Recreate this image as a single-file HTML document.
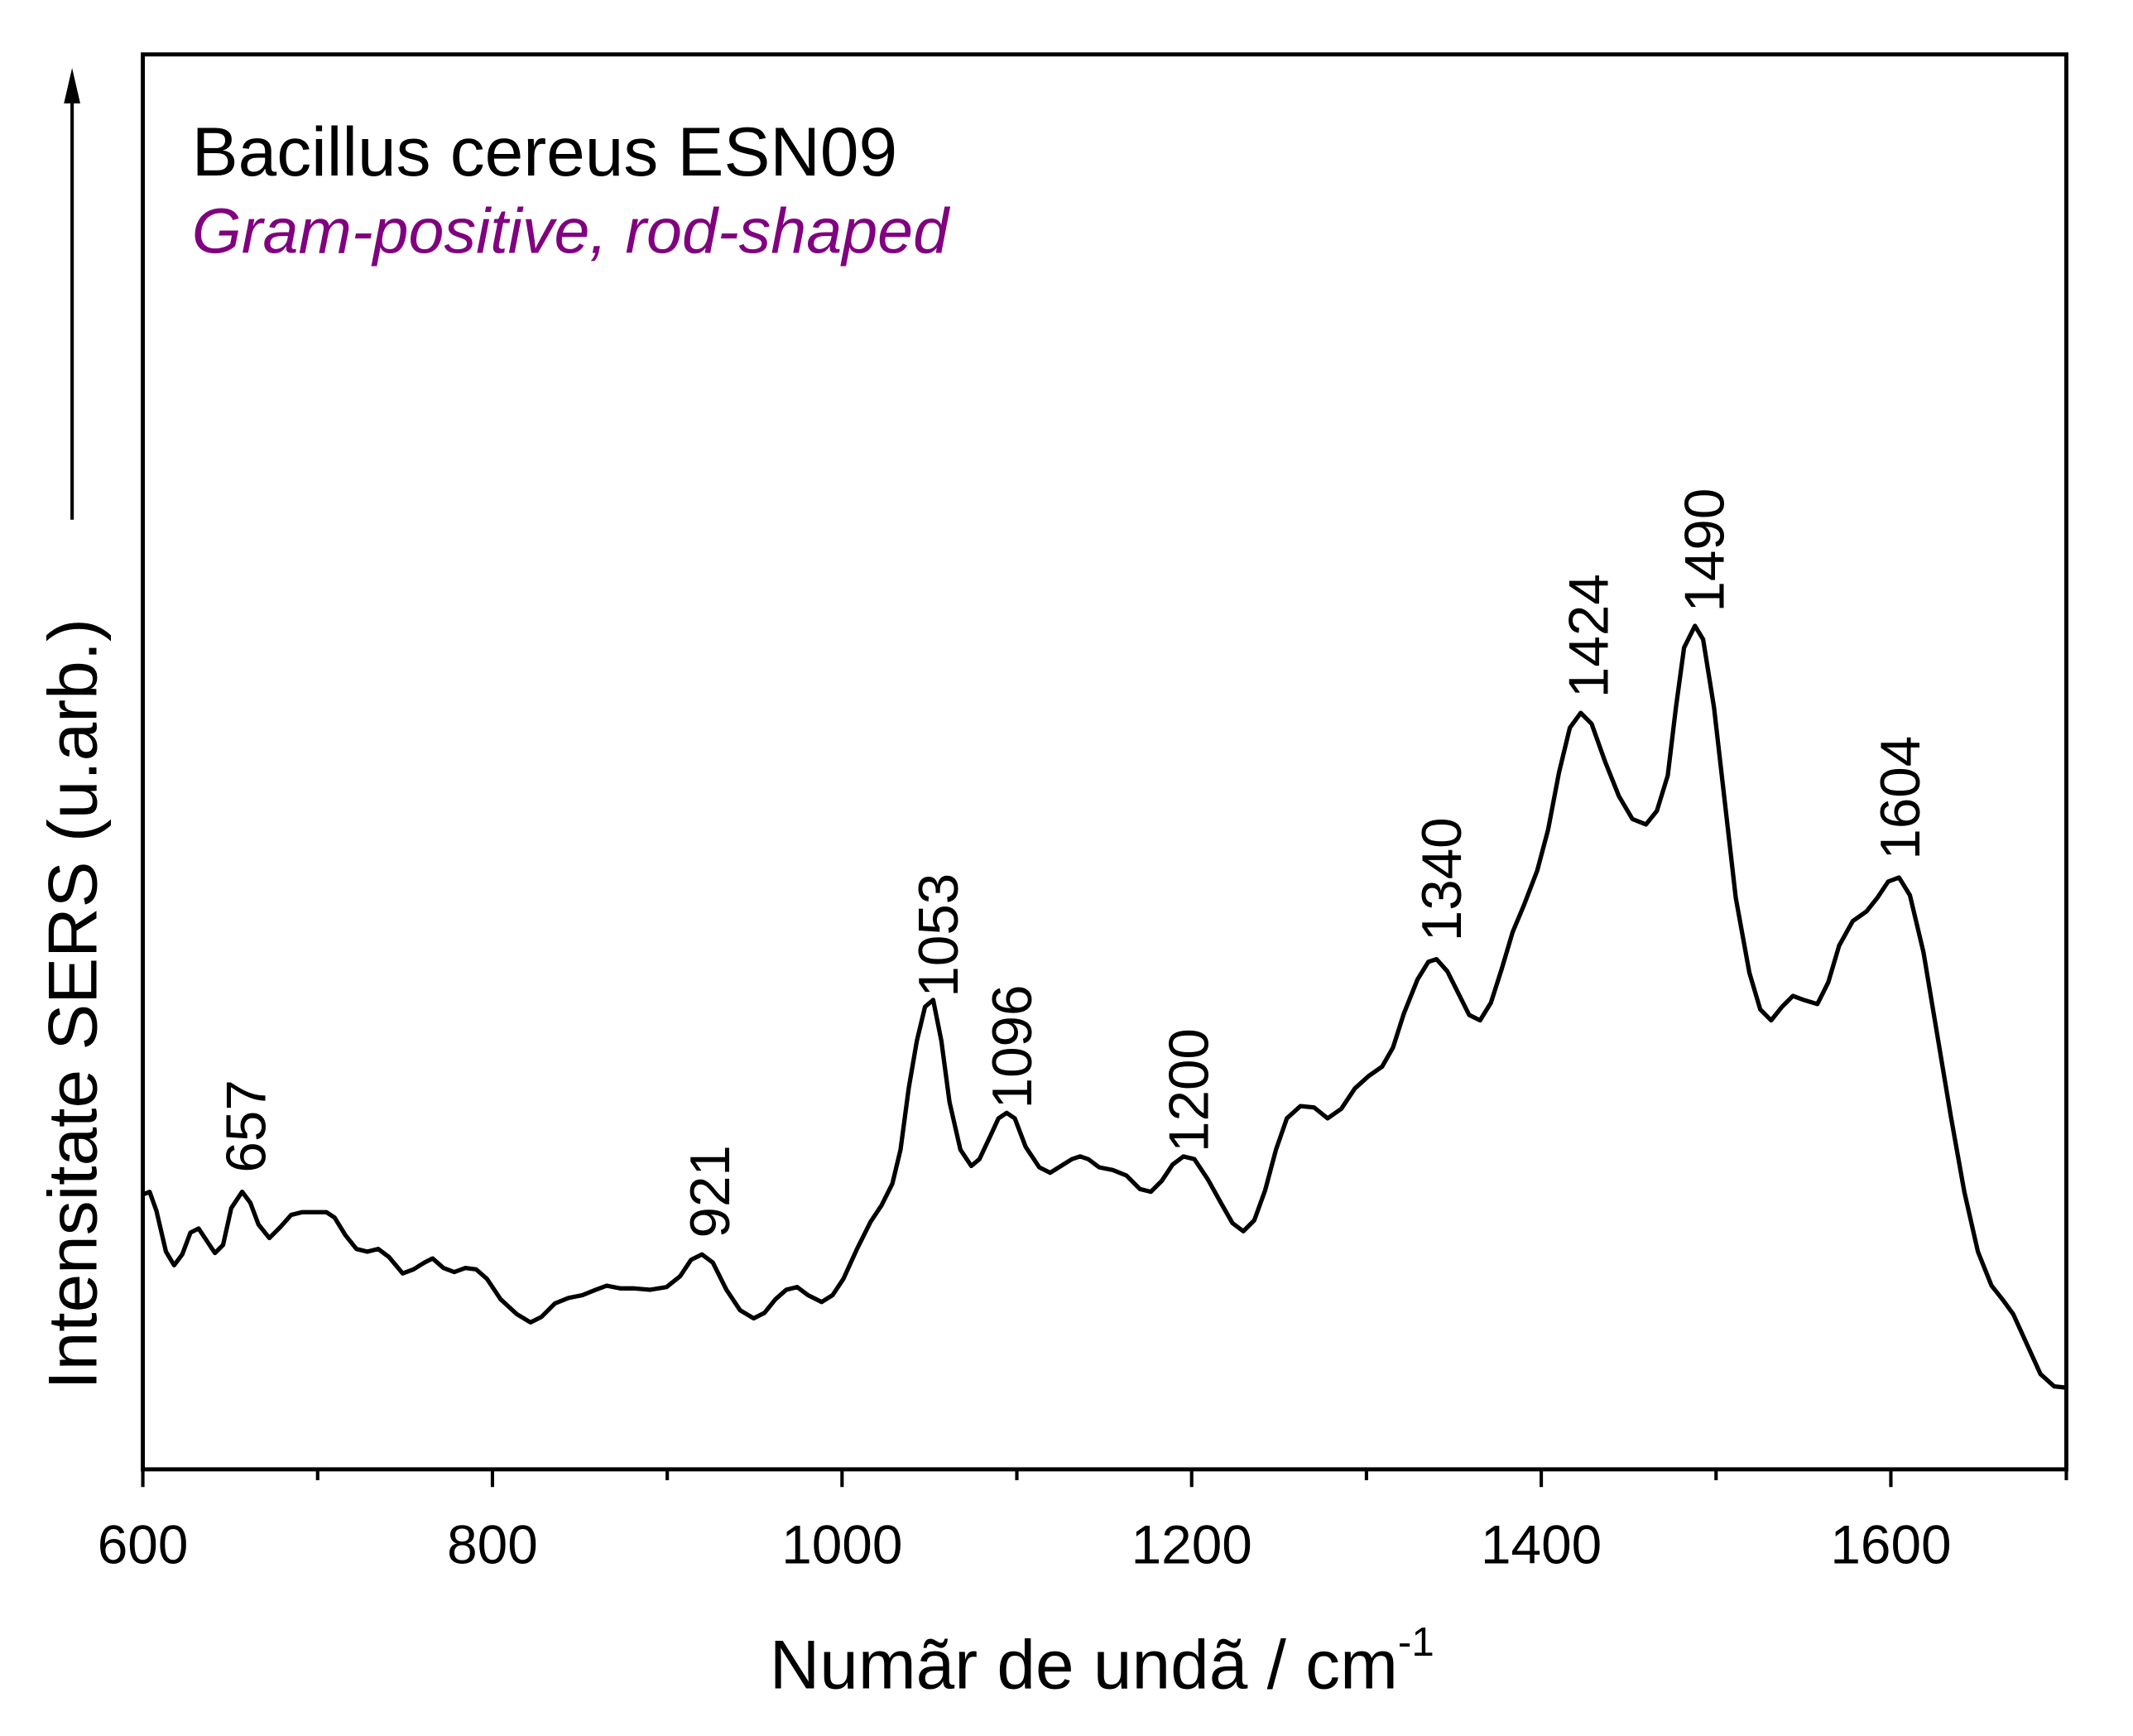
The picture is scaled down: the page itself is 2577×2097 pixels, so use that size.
<!DOCTYPE html>
<html><head><meta charset="utf-8"><style>html,body{margin:0;padding:0;background:#fff}svg{display:block}</style></head>
<body>
<svg width="2577" height="2097" viewBox="0 0 1568 1276" preserveAspectRatio="none" xmlns="http://www.w3.org/2000/svg" font-family="Liberation Sans, Arial, sans-serif">
<rect x="0" y="0" width="1568" height="1276" fill="#fff"/>
<rect x="105" y="40" width="1414" height="1040" fill="none" stroke="#000" stroke-width="3"/>
<g stroke="#000" stroke-width="2.5">
<line x1="105" y1="1080" x2="105" y2="1093"/><line x1="362" y1="1080" x2="362" y2="1093"/><line x1="619" y1="1080" x2="619" y2="1093"/><line x1="876" y1="1080" x2="876" y2="1093"/><line x1="1133" y1="1080" x2="1133" y2="1093"/><line x1="1390" y1="1080" x2="1390" y2="1093"/>
<line x1="233.5" y1="1080" x2="233.5" y2="1088"/><line x1="490.5" y1="1080" x2="490.5" y2="1088"/><line x1="747.5" y1="1080" x2="747.5" y2="1088"/><line x1="1004.5" y1="1080" x2="1004.5" y2="1088"/><line x1="1261.5" y1="1080" x2="1261.5" y2="1088"/><line x1="1519" y1="1080" x2="1519" y2="1088"/>
</g>
<g font-size="40" text-anchor="middle" fill="#000">
<text x="105" y="1149">600</text><text x="362" y="1149">800</text><text x="619" y="1149">1000</text><text x="876" y="1149">1200</text><text x="1133" y="1149">1400</text><text x="1390" y="1149">1600</text>
</g>
<text x="810" y="1241" font-size="51" text-anchor="middle">Numãr de undã / cm<tspan font-size="30" dy="-24">-1</tspan></text>
<text transform="translate(71,738) rotate(-90)" font-size="51" text-anchor="middle">Intensitate SERS (u.arb.)</text>
<line x1="53" y1="382" x2="53" y2="70" stroke="#000" stroke-width="2.5"/>
<polygon points="53,50 47,76 59,76" fill="#000"/>
<text x="141" y="129" font-size="51">Bacillus cereus ESN09</text>
<text x="141" y="186" font-size="47" font-style="italic" fill="#800080">Gram-positive, rod-shaped</text>
<polyline fill="none" stroke="#000" stroke-width="3.2" stroke-linejoin="round" points="105,878 110,876 115,890 122,920 128,930 134,922 140,906 146,903 152,912 158,921 164,915 170,888 178,876 184,884 190,900 198,910 206,902 214,893 222,891 240,891 246,895 254,908 262,918 270,920 278,918 286,924 296,936 304,933 312,928 318,925 326,932 334,935 342,932 350,933 358,940 368,955 380,966 390,972 398,968 408,958 418,954 428,952 438,948 446,945 456,947 466,947 478,948 490,946 500,938 508,926 516,922 524,928 534,948 544,963 554,969 562,965 570,955 578,948 586,946 594,952 604,957 612,952 620,940 630,918 640,898 648,886 656,870 662,845 668,800 674,765 680,740 686,735 692,765 698,810 706,845 714,857 720,852 728,835 734,822 740,818 746,822 754,843 764,858 772,862 780,857 788,852 794,850 800,852 808,858 818,860 828,864 838,874 846,876 854,868 862,856 870,850 878,852 888,867 898,885 906,899 914,905 922,897 930,875 938,845 946,822 956,813 966,814 976,822 986,815 996,800 1006,791 1016,784 1024,770 1032,745 1042,720 1050,707 1056,705 1064,714 1072,730 1080,746 1088,750 1096,737 1104,712 1112,685 1120,666 1130,640 1138,610 1146,568 1154,535 1162,524 1170,532 1180,560 1190,585 1200,602 1210,606 1218,596 1226,570 1232,520 1238,476 1246,460 1252,470 1260,520 1268,590 1276,660 1286,715 1294,742 1302,750 1310,740 1318,732 1326,735 1336,738 1344,722 1352,695 1362,677 1372,670 1380,660 1388,648 1396,645 1404,658 1414,700 1424,760 1434,820 1444,876 1454,920 1464,945 1472,955 1480,966 1490,988 1500,1010 1510,1019 1519,1020"/>
<g font-size="41" fill="#000">
<text transform="translate(195,862) rotate(-90)">657</text>
<text transform="translate(536,910) rotate(-90)">921</text>
<text transform="translate(704,733) rotate(-90)">1053</text>
<text transform="translate(758,815) rotate(-90)">1096</text>
<text transform="translate(888,847) rotate(-90)">1200</text>
<text transform="translate(1074,692) rotate(-90)">1340</text>
<text transform="translate(1182,513) rotate(-90)">1424</text>
<text transform="translate(1267,450) rotate(-90)">1490</text>
<text transform="translate(1411,632) rotate(-90)">1604</text>
</g>
</svg>
</body></html>
